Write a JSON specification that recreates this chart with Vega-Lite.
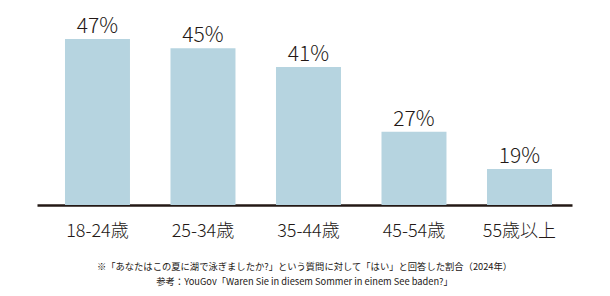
{
  "$schema": "https://vega.github.io/schema/vega-lite/v6.json",
  "width": 535,
  "height": 205,
  "autosize": {"type": "none"},
  "padding": {"left": 37, "top": 0, "right": 38, "bottom": 91},
  "background": "white",
  "config": {"view": {"stroke": null}, "font": "Noto Sans CJK JP"},
  "title": {
    "text": ["※「あなたはこの夏に湖で泳ぎましたか?」という質問に対して「はい」と回答した割合（2024年）", "参考：YouGov「Waren Sie in diesem Sommer in einem See baden?」"],
    "orient": "bottom",
    "anchor": "middle",
    "frame": "group",
    "fontSize": 9.3,
    "fontWeight": "normal",
    "color": "#231815",
    "lineHeight": 15,
    "offset": 23,
    "font": "Noto Sans CJK JP"
  },
  "data": {
    "values": [
      {"age": "18-24歳", "pct": 47, "label": "47%"},
      {"age": "25-34歳", "pct": 45, "label": "45%"},
      {"age": "35-44歳", "pct": 41, "label": "41%"},
      {"age": "45-54歳", "pct": 27, "label": "27%"},
      {"age": "55歳以上", "pct": 19, "label": "19%"}
    ]
  },
  "encoding": {
    "x": {
      "field": "age",
      "type": "nominal",
      "sort": null,
      "scale": {"paddingInner": 0.384, "paddingOuter": 0.2275, "align": 0.583},
      "axis": {
        "title": null,
        "domainColor": "#231815",
        "domainWidth": 2.5,
        "ticks": false,
        "labelAngle": 0,
        "labelFontSize": 18,
        "labelFontWeight": 300,
        "labelColor": "#231815",
        "labelPadding": 17,
        "labelFont": "Noto Sans CJK JP"
      }
    },
    "y": {
      "field": "pct",
      "type": "quantitative",
      "scale": {"domain": [11.24, 55.42], "zero": false, "nice": false},
      "axis": null
    }
  },
  "layer": [
    {"mark": {"type": "bar", "color": "#b6d4e0"}, "encoding": {"y2": {"datum": 11.24}}},
    {
      "mark": {"type": "text", "baseline": "alphabetic", "dy": -6, "fontSize": 21, "fontWeight": 300, "color": "#231815", "font": "Noto Sans CJK JP"},
      "encoding": {"text": {"field": "label", "type": "nominal"}}
    }
  ]
}
